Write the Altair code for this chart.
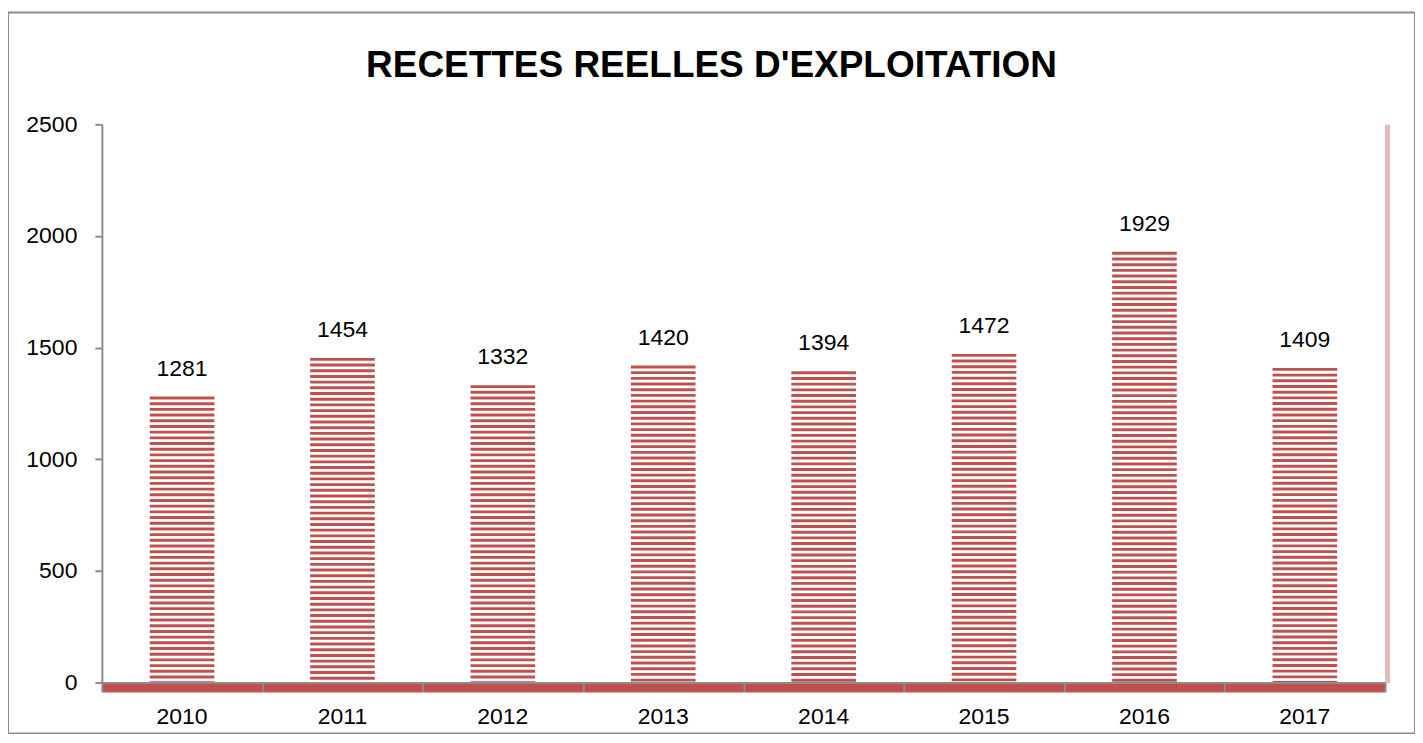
import altair as alt
import pandas as pd

years = ["2010", "2011", "2012", "2013", "2014", "2015", "2016", "2017"]
values = [1281, 1454, 1332, 1420, 1394, 1472, 1929, 1409]
y_ticks = [0, 500, 1000, 1500, 2000, 2500]
title_text = "RECETTES REELLES D'EXPLOITATION"

df = pd.DataFrame({"year": years, "value": values})

W, H = 1409, 722
RED = "#C0504D"
GREY = "#8C8C8C"
FONT = "Liberation Sans"
PITCH = 25.5
THICK = 13

x_scale = alt.Scale(domain=years, range=[94, 1379], paddingInner=0, paddingOuter=0)
y_scale = alt.Scale(domain=[0, 2500], range=[671, 112], nice=False, zero=True)

base = alt.Chart(df)

stripes = (
    base.transform_calculate(k=f"sequence(0, floor(datum.value / {PITCH}) + 1)")
    .transform_flatten(["k"])
    .transform_calculate(top=f"datum.value - datum.k * {PITCH}")
    .transform_filter("datum.top > 0")
    .transform_calculate(bot=f"max(0, datum.top - {THICK})")
    .mark_bar(color=RED, width={"band": 0.403})
    .encode(
        x=alt.X("year:N", scale=x_scale, sort=years,
                axis=alt.Axis(orient="bottom", offset=-51, labels=False, title=None,
                              domainColor=GREY, domainWidth=2, tickColor=GREY, tickWidth=2,
                              tickSize=9, tickBand="extent", zindex=2)),
        y=alt.Y("top:Q", scale=y_scale,
                axis=alt.Axis(orient="left", offset=-94, values=y_ticks, format="d", title=None,
                              grid=False, domainColor=GREY, domainWidth=2, tickColor=GREY,
                              tickWidth=2, tickSize=7, labelPadding=18, labelFont=FONT,
                              labelFontSize=23, labelColor="black")),
        y2="bot:Q",
    )
)

labels = base.mark_text(font=FONT, fontSize=23, baseline="alphabetic", dy=-21, color="black").encode(
    x=alt.X("year:N", scale=x_scale, sort=years,
            axis=alt.Axis(orient="bottom", offset=-46, title=None, ticks=False,
                          domainColor=RED, domainWidth=9, labelPadding=18, labelFont=FONT,
                          labelFontSize=23, labelColor="black", labelAngle=0, zindex=1)),
    y=alt.Y("value:Q", scale=y_scale,
            axis=alt.Axis(orient="right", offset=-28, title=None, labels=False, ticks=False,
                          grid=False, domainColor="#E6B9B8", domainWidth=5)),
    text="value:Q",
)

chart = (
    alt.layer(stripes, labels)
    .resolve_axis(x="independent", y="independent")
    .properties(
        width=W,
        height=H,
        autosize=alt.AutoSizeParams(type="none"),
        padding={"left": 0, "top": 4, "right": 0, "bottom": 0},
        title=alt.TitleParams(title_text, font=FONT, fontSize=37, fontWeight="bold",
                              color="black", anchor="middle", frame="group", orient="top",
                              offset=-102, baseline="alphabetic"),
    )
    .configure_view(stroke=GREY, strokeWidth=2)
)

chart.save("out.html", embed_options={"renderer": "svg", "actions": False})
